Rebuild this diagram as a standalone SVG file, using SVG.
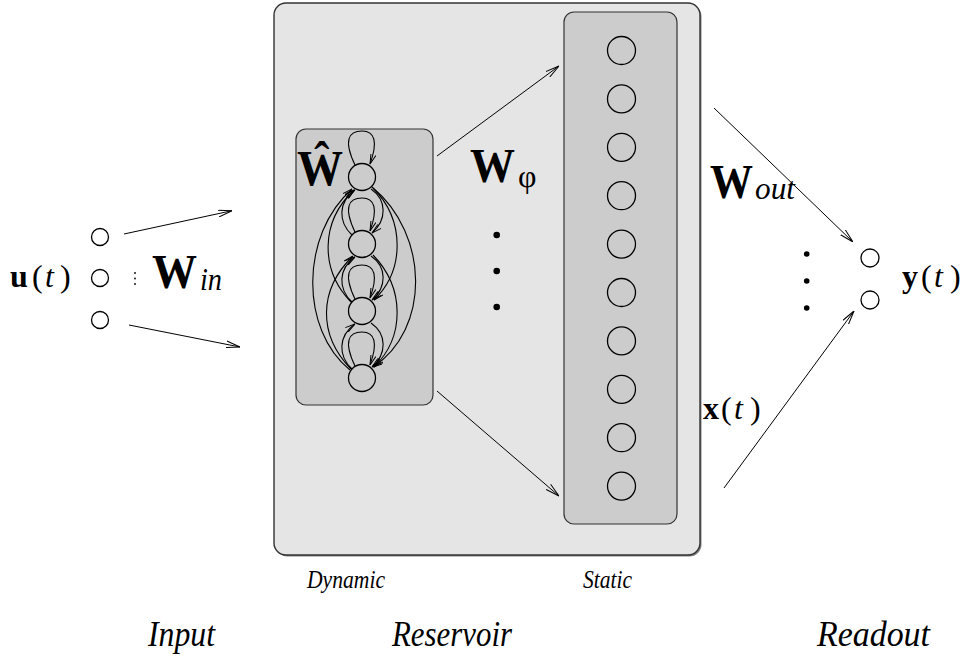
<svg xmlns="http://www.w3.org/2000/svg" width="964" height="657" viewBox="0 0 964 657">
  <style>
    .t { font-family: "Liberation Serif", "Times New Roman", serif; fill: #000; }
    .b { font-weight: bold; }
    .i { font-style: italic; }
    .node { fill: none; stroke: #000; stroke-width: 1.3; }
    .con { fill: none; stroke: #000; stroke-width: 1; }
    .net { fill: none; stroke: #000; stroke-width: 1.1; }
  </style>
  <defs>
    <marker id="arr" viewBox="0 0 14 8" refX="14" refY="4" markerWidth="14" markerHeight="8" orient="auto" markerUnits="userSpaceOnUse">
      <path d="M0,0.6 L14,4 L0,7.4" fill="none" stroke="#000" stroke-width="1"/>
    </marker>
    <marker id="sarr" viewBox="0 0 10 6" refX="10" refY="3" markerWidth="10" markerHeight="6" orient="auto" markerUnits="userSpaceOnUse">
      <path d="M0,0.4 L10,3 L0,5.6" fill="none" stroke="#000" stroke-width="1"/>
    </marker>
  </defs>

  <rect width="964" height="657" fill="#fff"/>

  <!-- reservoir container -->
  <g id="reservoir">
    <rect x="275.5" y="4.5" width="426" height="552" rx="12" fill="#808080"/>
    <rect x="274" y="3" width="426" height="552" rx="12" fill="#e5e5e5" stroke="#333" stroke-width="1.4"/>
  </g>

  <!-- dynamic part: recurrent layer -->
  <g id="dynamic">
    <rect x="296" y="129" width="137" height="276" rx="10" fill="#cccccc" stroke="#333" stroke-width="1.2"/>
    <circle class="node" cx="362" cy="177" r="13.5"/>
    <circle class="node" cx="362" cy="244" r="13.5"/>
    <circle class="node" cx="362" cy="311" r="13.5"/>
    <circle class="node" cx="362" cy="378" r="13.5"/>
    <!-- self loops -->
    <g class="net" marker-end="url(#sarr)">
      <path d="M355,165 C343,140 349,131 362,131 C375,131 378,142 370,164"/>
      <path d="M355,232 C343,207 349,198 362,198 C375,198 378,209 370,231"/>
      <path d="M355,299 C343,274 349,265 362,265 C375,265 378,276 370,298"/>
      <path d="M355,366 C343,341 349,332 362,332 C375,332 378,343 370,365"/>
    </g>
    <!-- upward links (left side) -->
    <g class="net" marker-end="url(#sarr)">
      <path d="M350,370 C300,330 300,235 352,189"/>
      <path d="M351,369 C318,335 318,290 353,256"/>
      <path d="M351,302 C320,270 320,222 354,190"/>
      <path d="M352,235 C338,222 338,202 355,190"/>
      <path d="M352,302 C338,289 338,269 355,257"/>
      <path d="M352,369 C338,356 338,336 355,324"/>
    </g>
    <!-- downward links (right side) -->
    <g class="net" marker-end="url(#sarr)">
      <path d="M372,187 C430,235 430,330 373,367"/>
      <path d="M373,188 C405,220 405,270 374,300"/>
      <path d="M373,255 C405,288 405,337 374,367"/>
      <path d="M371,189 C387,200 387,220 372,233"/>
      <path d="M371,256 C387,267 387,287 372,300"/>
      <path d="M371,323 C387,334 387,354 372,367"/>
    </g>
    <text class="t b" x="297" y="185" font-size="50" textLength="46" lengthAdjust="spacingAndGlyphs">Ŵ</text>
  </g>

  <!-- static part: readout-facing layer -->
  <g id="static">
    <rect x="564" y="12" width="113" height="512" rx="10" fill="#cccccc" stroke="#333" stroke-width="1.2"/>
    <circle class="node" cx="621.5" cy="50.5" r="14"/>
    <circle class="node" cx="621.5" cy="98.9" r="14"/>
    <circle class="node" cx="621.5" cy="147.3" r="14"/>
    <circle class="node" cx="621.5" cy="195.7" r="14"/>
    <circle class="node" cx="621.5" cy="244.1" r="14"/>
    <circle class="node" cx="621.5" cy="292.5" r="14"/>
    <circle class="node" cx="621.5" cy="340.9" r="14"/>
    <circle class="node" cx="621.5" cy="389.3" r="14"/>
    <circle class="node" cx="621.5" cy="437.7" r="14"/>
    <circle class="node" cx="621.5" cy="486.1" r="14"/>
  </g>

  <!-- input layer -->
  <g id="input">
    <circle class="node" cx="100" cy="237" r="8.5"/>
    <circle class="node" cx="100" cy="278" r="8.5"/>
    <circle class="node" cx="100" cy="320" r="8.5"/>
    <circle cx="135" cy="273" r="0.9" fill="#000"/>
    <circle cx="135" cy="278.5" r="0.9" fill="#000"/>
    <circle cx="135" cy="284" r="0.9" fill="#000"/>
    <text class="t" y="287" font-size="32"><tspan class="b" x="10">u</tspan><tspan x="32">(</tspan><tspan class="i" x="45">t</tspan><tspan x="60">)</tspan></text>
  </g>

  <!-- output layer -->
  <g id="output">
    <circle class="node" cx="870" cy="258" r="9"/>
    <circle class="node" cx="870" cy="300" r="9"/>
    <text class="t" y="287" font-size="32"><tspan class="b" x="902">y</tspan><tspan x="921">(</tspan><tspan class="i" x="934">t</tspan><tspan x="950">)</tspan></text>
  </g>

  <!-- connectors -->
  <g id="connectors" class="con" marker-end="url(#arr)">
    <path d="M124,234 L232,210.7"/>
    <path d="M129,325 L240,347"/>
    <path d="M437,156 L559,66"/>
    <path d="M437,391 L559,496"/>
    <path d="M714,108 L853,242"/>
    <path d="M724,488 L854,311"/>
  </g>

  <!-- weight labels and ellipses -->
  <g id="labels">
    <text class="t b" x="152" y="288" font-size="48" textLength="45" lengthAdjust="spacingAndGlyphs">W</text>
    <text class="t i" x="200" y="290" font-size="32" textLength="22" lengthAdjust="spacingAndGlyphs">in</text>
    <text class="t b" x="470" y="182" font-size="48" textLength="45" lengthAdjust="spacingAndGlyphs">W</text>
    <text class="t" x="518" y="187" font-size="32">φ</text>
    <text class="t b" x="710" y="198" font-size="48" textLength="43" lengthAdjust="spacingAndGlyphs">W</text>
    <text class="t i" x="755" y="199" font-size="32" textLength="40" lengthAdjust="spacingAndGlyphs">out</text>
    <text class="t" y="419" font-size="32"><tspan class="b" x="703">x</tspan><tspan x="721">(</tspan><tspan class="i" x="734">t</tspan><tspan x="750">)</tspan></text>
    <circle cx="496.7" cy="235" r="3.3" fill="#000"/>
    <circle cx="496.7" cy="271" r="3.3" fill="#000"/>
    <circle cx="496.7" cy="307" r="3.3" fill="#000"/>
    <circle cx="806.7" cy="254" r="2.8" fill="#000"/>
    <circle cx="806.7" cy="281" r="2.8" fill="#000"/>
    <circle cx="806.7" cy="308" r="2.8" fill="#000"/>
  </g>

  <!-- section captions -->
  <g id="captions" class="t i">
    <text x="307" y="588" font-size="25" textLength="78" lengthAdjust="spacingAndGlyphs">Dynamic</text>
    <text x="583" y="588" font-size="25" textLength="49" lengthAdjust="spacingAndGlyphs">Static</text>
    <text x="148" y="646" font-size="35" textLength="67" lengthAdjust="spacingAndGlyphs">Input</text>
    <text x="392" y="646" font-size="35" textLength="120" lengthAdjust="spacingAndGlyphs">Reservoir</text>
    <text x="817" y="646" font-size="35" textLength="113" lengthAdjust="spacingAndGlyphs">Readout</text>
  </g>
</svg>
